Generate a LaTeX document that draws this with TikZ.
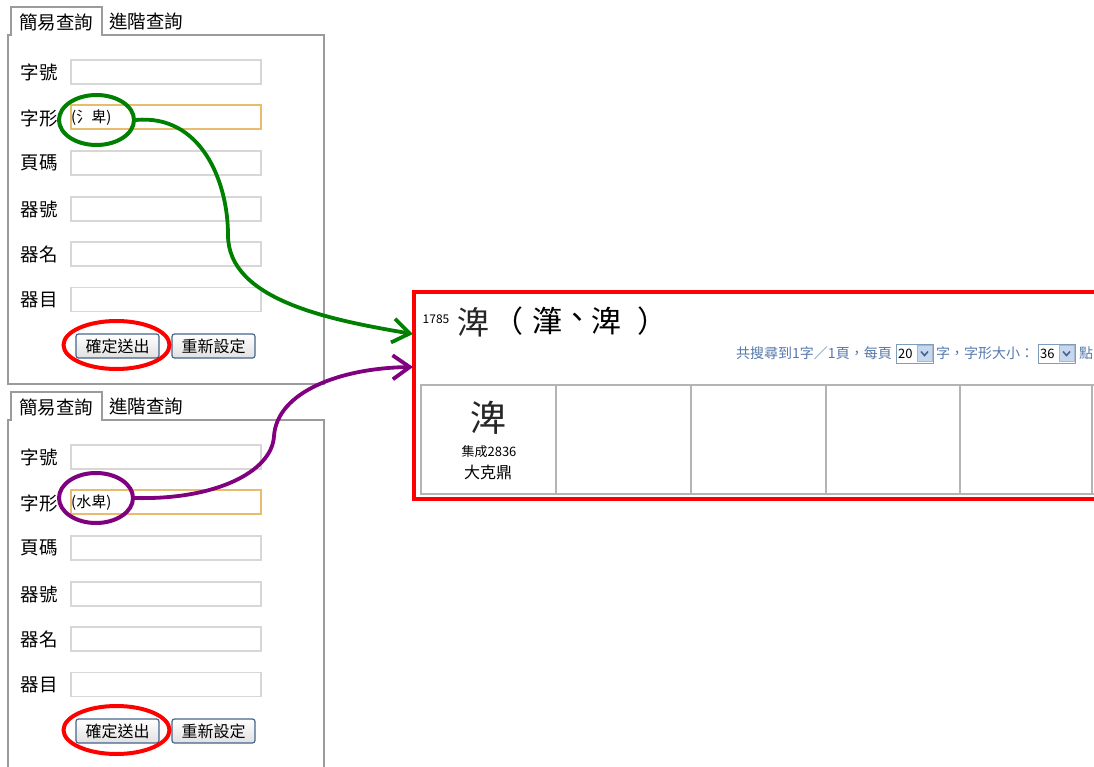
\documentclass[tikz,border=0pt]{standalone}
\usepackage{fontspec}
\newfontfamily\cjk{Noto Sans CJK TC}
\usetikzlibrary{shapes.geometric,arrows.meta}
\definecolor{grn}{RGB}{0,128,0}
\definecolor{prp}{RGB}{128,0,128}
\definecolor{redc}{RGB}{255,0,0}
\definecolor{panelgray}{RGB}{155,155,155}
\definecolor{fieldgray}{RGB}{215,215,215}
\definecolor{orangeb}{RGB}{232,188,110}
\definecolor{btnb}{RGB}{70,100,140}
\definecolor{infob}{RGB}{85,120,170}
\definecolor{selb}{RGB}{127,157,185}
\definecolor{selbtn}{RGB}{200,215,240}
\definecolor{cellgray}{RGB}{180,180,180}
\tikzset{
  lab/.style={font=\cjk\fontsize{18.5}{20}\selectfont, inner sep=0pt, anchor=center},
  field/.style={draw=fieldgray, line width=1.5pt, minimum width=190pt, minimum height=24pt, inner sep=0pt, anchor=west},
  hotfield/.style={field, draw=orangeb},
  ftext/.style={font=\cjk\fontsize{15}{16}\selectfont, inner sep=0pt, anchor=west},
  btn/.style={draw=btnb, line width=1.2pt, rounded corners=2.5pt, top color=white, bottom color=black!12,
    minimum width=83pt, minimum height=24pt, inner sep=0pt, font=\cjk\fontsize{16}{17}\selectfont},
  panel/.style={draw=panelgray, line width=1.2pt},
  ring/.style={ellipse, draw, line width=4pt, inner sep=0pt},
  conn/.style={line width=3.8pt, -{Straight Barb[length=17pt,width=24pt,line width=3.8pt]}},
  info/.style={font=\cjk\fontsize{14}{15}\selectfont, text=infob, inner sep=0pt, anchor=west},
  sel/.style={draw=selb, line width=1pt, minimum width=37pt, minimum height=19pt, inner sep=0pt},
  seltxt/.style={font=\cjk\fontsize{13}{14}\selectfont, inner sep=0pt, anchor=west},
  cell/.style={draw=cellgray, line width=1.2pt},
  ttlchar/.style={font=\cjk\fontsize{30}{32}\selectfont, inner sep=0pt},
}
\newcommand\FormPanel[2]{%
  \draw[panel] (8,384) -- (8,35) -- (11,35) -- (11,7) -- (102,7) -- (102,35) -- (324,35) -- (324,384) -- cycle;
  \node[lab] (tabA#1) at (56,22) {簡易查詢};
  \node[lab] (tabB#1) at (146,21) {進階查詢};
  \node[lab] (l1#1) at (39,72) {字號};
  \node[field] (f1#1) at (70,72) {};
  \node[lab] (l2#1) at (39,118) {字形};
  \node[hotfield] (f2#1) at (70,117) {};
  \node[ftext] (t2#1) at (71,118) {#2};
  \node[lab] (l3#1) at (39,163) {頁碼};
  \node[field] (f3#1) at (70,163) {};
  \node[lab] (l4#1) at (39,209) {器號};
  \node[field] (f4#1) at (70,209) {};
  \node[lab] (l5#1) at (39,254) {器名};
  \node[field] (f5#1) at (70,254) {};
  \node[lab] (l6#1) at (39,300) {器目};
  \node[field] (f6#1) at (70,299.5) {};
  \node[btn] (b1#1) at (117.5,346) {確定送出};
  \node[btn] (b2#1) at (213.5,346) {重新設定};
  \node[ring, draw=redc, minimum width=106pt, minimum height=48pt] (r#1) at (116.5,345) {};
}
\begin{document}
\begin{tikzpicture}[x=1pt,y=-1pt]
  \useasboundingbox (0,0) rectangle (1094,767);
  \fill[white] (0,0) rectangle (1094,767);

  % upper form
  \FormPanel{u}{(氵卑)}
  \node[ring, draw=grn, minimum width=75pt, minimum height=50pt] (g1) at (96.5,120) {};

  % lower form
  \begin{scope}[yshift=-385pt]
    \FormPanel{d}{(水卑)}
  \end{scope}
  \node[ring, draw=prp, minimum width=74pt, minimum height=50pt] (p1) at (96,498) {};

  % result panel
  \draw[redc, line width=4pt] (1100,292) -- (413.5,292) -- (413.5,499) -- (1100,499);
  \coordinate (gt) at (413,334);
  \coordinate (pt) at (413,367);

  \node[font=\cjk\fontsize{12}{13}\selectfont, inner sep=0pt] (num) at (436,319) {1785};
  \node[font=\cjk\fontsize{32}{34}\selectfont, inner sep=0pt, text=black!85] (seal1) at (473,322) {渒};
  \node[ttlchar, anchor=west] (ttl) at (493,321) {（};
  \node[ttlchar] (c1) at (547,321) {潷};
  \node[ttlchar] (c2) at (577,321) {、};
  \node[ttlchar] (c3) at (606,321) {渒};
  \node[ttlchar] (c4) at (652,321) {）};

  % info line
  \node[info] (i1) at (736,353.5) {共搜尋到1字／1頁，每頁};
  \node[sel] (s1) at (914.5,353.5) {};
  \node[seltxt] (s1t) at (898,353.5) {20};
  \node[draw=selb!70, fill=selbtn, minimum width=15pt, minimum height=16pt, inner sep=0pt] (s1b) at (924.5,353.5) {};
  \draw[btnb, line width=1.6pt] ([xshift=-3.5pt,yshift=2pt]s1b.center) -- ([yshift=-2pt]s1b.center) -- ([xshift=3.5pt,yshift=2pt]s1b.center);
  \node[info] (i2) at (936,353.5) {字，字形大小：};
  \node[sel] (s2) at (1056.5,353.5) {};
  \node[seltxt] (s2t) at (1040,353.5) {36};
  \node[draw=selb!70, fill=selbtn, minimum width=15pt, minimum height=16pt, inner sep=0pt] (s2b) at (1066.5,353.5) {};
  \draw[btnb, line width=1.6pt] ([xshift=-3.5pt,yshift=2pt]s2b.center) -- ([yshift=-2pt]s2b.center) -- ([xshift=3.5pt,yshift=2pt]s2b.center);
  \node[info] (i3) at (1079,353.5) {點};

  % result table
  \draw[cell] (1100,385) -- (421,385) -- (421,494) -- (1100,494);
  \draw[cell] (556,385) -- (556,494);
  \draw[cell] (691,385) -- (691,494);
  \draw[cell] (826,385) -- (826,494);
  \draw[cell] (960,385) -- (960,494);
  \draw[cell] (1092,385) -- (1092,494);
  \node[font=\cjk\fontsize{36}{38}\selectfont, inner sep=0pt, text=black!85] (seal2) at (488,418) {渒};
  \node[font=\cjk\fontsize{13}{14}\selectfont, inner sep=0pt] (src) at (489,452) {集成2836};
  \node[font=\cjk\fontsize{16}{17}\selectfont, inner sep=0pt] (vessel) at (488,472) {大克鼎};

  % connectors
  \draw[conn, grn] (g1.east) .. controls (200,114) and (228,180) .. (228,235)
        .. controls (228,300) and (330,320) .. (gt);
  \draw[conn, prp] (p1.east) .. controls (215,500) and (272,472) .. (274,436)
        .. controls (277,392) and (340,368) .. (pt);
\end{tikzpicture}
\end{document}
